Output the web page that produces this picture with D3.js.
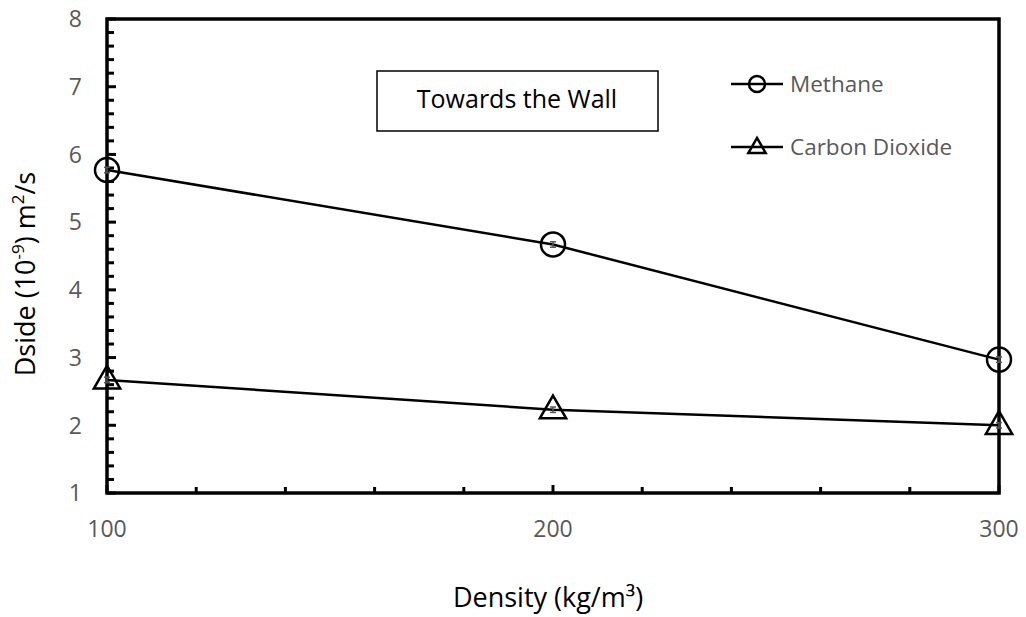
<!DOCTYPE html>
<html>
<head>
<meta charset="utf-8">
<script src="https://cdn.jsdelivr.net/npm/d3@7"></script>
<style>
  body { margin: 0; background: #fff; }
  svg { font-family: "Open Sans", "Noto Sans", sans-serif; }
</style>
</head>
<body>
<svg class="chart" width="1026" height="617"></svg>
<script>
// data
const densities = [100, 200, 300];
const methane = [5.77, 4.67, 2.97];
const carbonDioxide = [2.67, 2.23, 2.0];
const errMethane = [0.04, 0.04, 0.04];
const errCO2 = [0.04, 0.04, 0.04];
const xTicks = [100, 200, 300];
const yTicks = [1, 2, 3, 4, 5, 6, 7, 8];

const svg = d3.select('.chart');
const plotLeft = 107, plotRight = 999, plotTop = 19, plotBottom = 493;

const x = d3.scaleLinear().domain([100, 300]).range([plotLeft, plotRight]);
const y = d3.scaleLinear().domain([1, 8]).range([plotBottom, plotTop]);

// minor ticks on the left and bottom axes (inside)
const yMinor = d3.range(0, 36).map(i => 1 + i * 0.2);
svg.append('g').selectAll('line').data(yMinor).enter().append('line')
  .attr('x1', plotLeft)
  .attr('x2', (d, i) => plotLeft + (i % 5 === 0 ? 9 : 7))
  .attr('y1', d => y(d))
  .attr('y2', d => y(d))
  .attr('stroke', '#000')
  .attr('stroke-width', 3);

const xMinor = d3.range(0, 11).map(i => 100 + i * 20);
svg.append('g').selectAll('line').data(xMinor).enter().append('line')
  .attr('x1', d => x(d))
  .attr('x2', d => x(d))
  .attr('y1', plotBottom)
  .attr('y2', (d, i) => plotBottom - (i % 5 === 0 ? 8 : 6))
  .attr('stroke', '#000')
  .attr('stroke-width', 3);

// frame
svg.append('rect')
  .attr('x', plotLeft).attr('y', plotTop)
  .attr('width', plotRight - plotLeft).attr('height', plotBottom - plotTop)
  .attr('fill', 'none')
  .attr('stroke', '#000')
  .attr('stroke-width', 3.5);

// tick labels
svg.append('g').selectAll('text').data(yTicks).enter().append('text')
  .attr('x', 82)
  .attr('y', d => y(d))
  .attr('dy', '0.36em')
  .attr('text-anchor', 'end')
  .attr('fill', '#595959')
  .attr('font-size', 23)
  .text(d => d);

svg.append('g').selectAll('text').data(xTicks).enter().append('text')
  .attr('x', d => x(d))
  .attr('y', 537)
  .attr('text-anchor', 'middle')
  .attr('fill', '#595959')
  .attr('font-size', 23)
  .text(d => d);

// axis titles
svg.append('text')
  .attr('x', 548)
  .attr('y', 607)
  .attr('text-anchor', 'middle')
  .attr('font-size', 27)
  .attr('fill', '#000')
  .text('Density (kg/m³)');

const yTitle = svg.append('text')
  .attr('transform', 'translate(35,274) rotate(-90)')
  .attr('text-anchor', 'middle')
  .attr('font-size', 27)
  .attr('fill', '#000');
yTitle.append('tspan').text('Dside (10');
yTitle.append('tspan').attr('baseline-shift', 'super').attr('font-size', 17).text('-9');
yTitle.append('tspan').text(') m');
yTitle.append('tspan').attr('baseline-shift', 'super').attr('font-size', 17).text('2');
yTitle.append('tspan').text('/s');

// series
const line = d3.line().x(d => x(d[0])).y(d => y(d[1]));
const series = [
  { name: 'Methane', values: methane, err: errMethane, marker: 'circle' },
  { name: 'Carbon Dioxide', values: carbonDioxide, err: errCO2, marker: 'triangle' }
];

series.forEach(s => {
  const pts = densities.map((d, i) => [d, s.values[i], s.err[i]]);
  svg.append('path')
    .datum(pts)
    .attr('d', line)
    .attr('fill', 'none')
    .attr('stroke', '#000')
    .attr('stroke-width', 2.5);

  // tiny error bars
  const eb = svg.append('g').attr('stroke', '#555').attr('stroke-width', 1.5);
  pts.forEach(p => {
    eb.append('line').attr('x1', x(p[0])).attr('x2', x(p[0]))
      .attr('y1', y(p[1] - p[2])).attr('y2', y(p[1] + p[2]));
    [p[1] - p[2], p[1] + p[2]].forEach(v => {
      eb.append('line').attr('x1', x(p[0]) - 3).attr('x2', x(p[0]) + 3)
        .attr('y1', y(v)).attr('y2', y(v));
    });
  });

  const sym = s.marker === 'circle'
    ? d3.symbol().type(d3.symbolCircle).size(Math.PI * 12 * 12)
    : d3.symbol().type(d3.symbolTriangle).size(300);
  svg.append('g').selectAll('path').data(pts).enter().append('path')
    .attr('d', sym)
    .attr('transform', d => 'translate(' + x(d[0]) + ',' + (y(d[1]) + (s.marker === 'triangle' ? 1 : 0)) + ')')
    .attr('fill', 'none')
    .attr('stroke', '#000')
    .attr('stroke-width', 2.5);
});

// legend
const legendY = [84, 147];
series.forEach((s, i) => {
  const g = svg.append('g').attr('transform', 'translate(0,' + legendY[i] + ')');
  g.append('line').attr('x1', 731).attr('x2', 783).attr('y1', 0).attr('y2', 0)
    .attr('stroke', '#000').attr('stroke-width', 2.5);
  const sym = s.marker === 'circle'
    ? d3.symbol().type(d3.symbolCircle).size(Math.PI * 8 * 8)
    : d3.symbol().type(d3.symbolTriangle).size(130);
  g.append('path').attr('d', sym).attr('transform', 'translate(757,' + (s.marker === 'triangle' ? 1 : 0) + ')')
    .attr('fill', 'none').attr('stroke', '#000').attr('stroke-width', 2.5);
  g.append('text').attr('x', 790).attr('y', 8)
    .attr('font-size', 22.5).attr('fill', '#595959').text(s.name);
});

// annotation box
svg.append('rect')
  .attr('x', 377).attr('y', 71).attr('width', 281).attr('height', 60)
  .attr('fill', '#fff').attr('stroke', '#000').attr('stroke-width', 1.5);
svg.append('text')
  .attr('x', 517).attr('y', 108)
  .attr('text-anchor', 'middle').attr('font-size', 25).attr('fill', '#000')
  .text('Towards the Wall');
</script>
</body>
</html>
